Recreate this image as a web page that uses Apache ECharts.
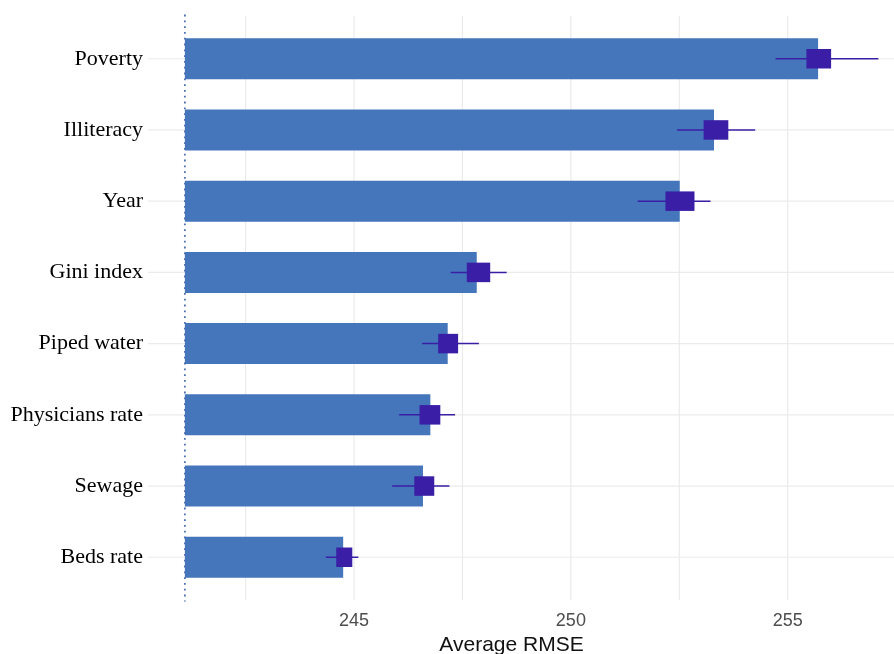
<!DOCTYPE html>
<html>
<head>
<meta charset="utf-8">
<script src="https://cdn.jsdelivr.net/npm/echarts@6/dist/echarts.min.js"></script>
<style>html,body{margin:0;padding:0;background:#fff;overflow:hidden;}#c{width:894px;height:654px;}</style>
</head>
<body>
<div id="c"></div>
<script>
const categories = ['Poverty','Illiteracy','Year','Gini index','Piped water','Physicians rate','Sewage','Beds rate'];
const meanRmse   = [255.70, 253.30, 252.51, 247.83, 247.16, 246.76, 246.59, 244.75];
const q1Rmse     = [255.43, 253.06, 252.18, 247.60, 246.94, 246.51, 246.39, 244.59];
const q3Rmse     = [256.00, 253.63, 252.85, 248.14, 247.40, 246.99, 246.85, 244.96];
const lowRmse    = [254.72, 252.45, 251.54, 247.23, 246.57, 246.04, 245.88, 244.35];
const highRmse   = [257.09, 254.25, 253.22, 248.52, 247.88, 247.33, 247.20, 245.10];
const xTickLabels = [245, 250, 255];
const xGridValues = [242.5, 245, 247.5, 250, 252.5, 255];
const baseValue = 241.1;
const xMin = 240.25, xMax = 257.45;
const yMin = -0.6, yMax = 7.6;

const chart = echarts.init(document.getElementById('c'), null, { width: 894, height: 654 });

const gridData = [];
xGridValues.forEach(v => gridData.push([0, v]));
categories.forEach((c, i) => gridData.push([1, i]));

const option = {
  animation: false,
  backgroundColor: '#ffffff',
  grid: { left: 148, right: 0, top: 16, bottom: 54, containLabel: false, outerBoundsMode: 'none' },
  xAxis: {
    type: 'value', min: xMin, max: xMax,
    name: 'Average RMSE', nameLocation: 'middle', nameGap: 28,
    nameTextStyle: { fontFamily: 'Liberation Sans', fontSize: 21, color: '#111111', padding: [0, 19, 0, 0] },
    axisLine: { show: false }, axisTick: { show: false }, splitLine: { show: false },
    axisLabel: { customValues: xTickLabels, fontFamily: 'Liberation Sans', fontSize: 18, color: '#4d4d4d', margin: 12 }
  },
  yAxis: {
    type: 'value', inverse: true, min: yMin, max: yMax,
    axisLine: { show: false }, axisTick: { show: false }, splitLine: { show: false },
    axisLabel: {
      customValues: categories.map((c, i) => i),
      formatter: v => categories[Math.round(v)] || '',
      fontFamily: 'Liberation Serif', fontSize: 22, color: '#000000', margin: 5
    }
  },
  series: [
    {
      type: 'custom', z: 1, silent: true, clip: false,
      data: gridData,
      renderItem: (params, api) => {
        const kind = api.value(0), v = api.value(1);
        let a, b;
        if (kind === 0) { a = api.coord([v, yMin]); b = api.coord([v, yMax]); }
        else { a = api.coord([xMin, v]); b = api.coord([xMax, v]); }
        return { type: 'line', shape: { x1: a[0], y1: a[1], x2: b[0], y2: b[1] },
                 style: { stroke: '#ebebeb', lineWidth: 1.2 } };
      }
    },
    {
      type: 'custom', z: 2, silent: true,
      data: meanRmse.map((v, i) => [v, i]),
      renderItem: (params, api) => {
        const v = api.value(0), i = api.value(1);
        const p0 = api.coord([baseValue, i]);
        const p1 = api.coord([v, i]);
        const h = api.size([0, 0.576])[1];
        return { type: 'rect', shape: { x: p0[0], y: p0[1] - h / 2, width: p1[0] - p0[0], height: h },
                 style: { fill: '#4576bb' } };
      }
    },
    {
      type: 'custom', z: 3, silent: true, clip: false,
      data: [[baseValue]],
      renderItem: (params, api) => {
        const a = api.coord([api.value(0), yMin - 0.02]);
        const b = api.coord([api.value(0), yMax + 0.02]);
        return { type: 'line', shape: { x1: a[0], y1: a[1], x2: b[0], y2: b[1] },
                 style: { stroke: '#4f6fb0', lineWidth: 1.8, lineDash: [1.8, 4] } };
      }
    },
    {
      type: 'custom', z: 4, silent: true,
      data: categories.map((c, i) => [i, lowRmse[i], q1Rmse[i], q3Rmse[i], highRmse[i]]),
      renderItem: (params, api) => {
        const i = api.value(0);
        const lo = api.coord([api.value(1), i]);
        const a = api.coord([api.value(2), i]);
        const b = api.coord([api.value(3), i]);
        const hi = api.coord([api.value(4), i]);
        const h = api.size([0, 0.274])[1];
        return {
          type: 'group',
          children: [
            { type: 'line', shape: { x1: lo[0], y1: lo[1], x2: hi[0], y2: hi[1] },
              style: { stroke: '#3a1fa6', lineWidth: 1.5 } },
            { type: 'rect', shape: { x: a[0], y: a[1] - h / 2, width: b[0] - a[0], height: h },
              style: { fill: '#3a1fa6' } }
          ]
        };
      }
    }
  ]
};
chart.setOption(option);
</script>
</body>
</html>
